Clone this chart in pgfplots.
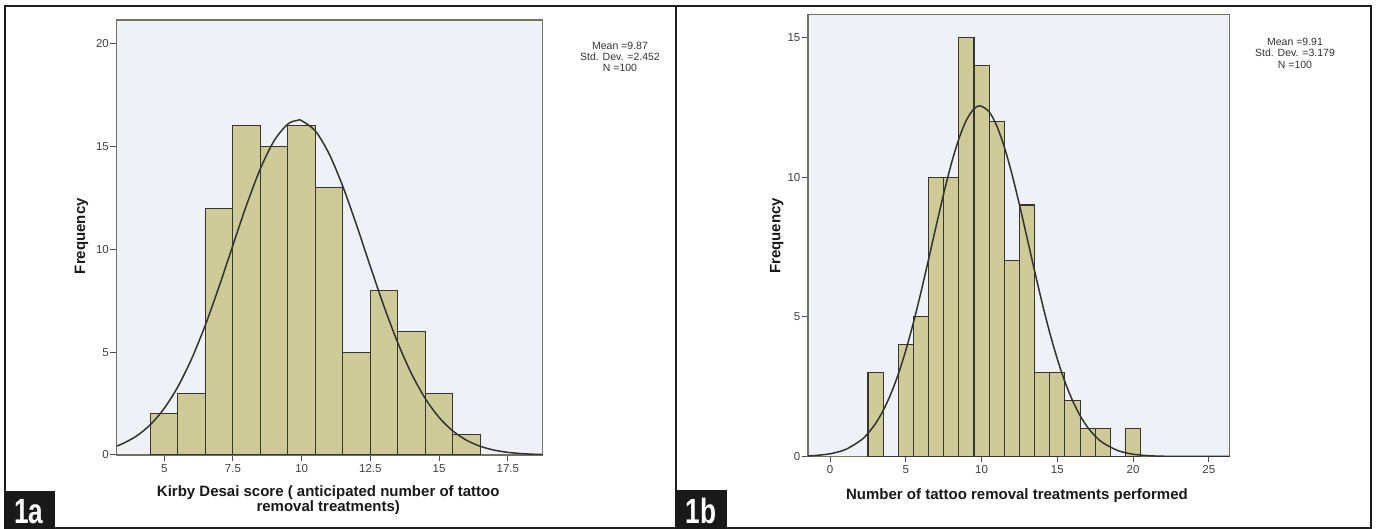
\documentclass[border=0pt]{standalone}
\usepackage{pgfplots}
\pgfplotsset{compat=1.18}
\usepackage{graphicx}
\usepackage{fontspec}
\setmainfont{Liberation Sans}
\definecolor{plotbg}{RGB}{238,241,246}
\definecolor{barfill}{RGB}{206,203,152}
\definecolor{baredge}{RGB}{55,54,46}
\definecolor{framegray}{RGB}{115,112,100}
\definecolor{curvecol}{RGB}{50,50,50}
\pgfplotsset{
  spssaxis/.style={
    scale only axis,
    anchor=south west,
    axis background/.style={fill=plotbg},
    axis line style={draw=framegray, line width=1.3pt},
    tick align=outside,
    xtick pos=bottom, ytick pos=left,
    major tick length=6pt,
    tick style={draw=black!70, line width=1pt},
    minor tick num=0,
    /pgf/number format/assume math mode=true,
    tick label style={font=\fontsize{11.5}{11.5}\selectfont, text=black!75},
    yticklabel style={inner sep=1.5pt},
    xticklabel style={inner sep=3pt},
    label style={font=\bfseries\fontsize{15}{15}\selectfont, text=black!90},
  }
}
\begin{document}
\begin{tikzpicture}
\useasboundingbox (0pt,0pt) rectangle (1377pt,529pt);
\fill[white] (0pt,0pt) rectangle (1377pt,529pt);

% ---------- panel 1a ----------
\begin{axis}[spssaxis,
  at={(116.5pt,74pt)}, width=426pt, height=435pt,
  xmin=3.265, xmax=18.76, ymin=0, ymax=21.14,
  xtick={5,7.5,10,12.5,15,17.5},
  xticklabels={5,7.5,10,12.5,15,17.5},
  ytick={0,5,10,15,20},
  xlabel={Kirby Desai score ( anticipated number of tattoo\\removal treatments)},
  xlabel style={at={(axis description cs:0.497,-0.1046)}, anchor=center, align=center},
  ylabel={Frequency},
  ylabel style={at={(axis description cs:-0.082,0.503)}, anchor=center, rotate=0},
]
\addplot[ybar interval, fill=barfill, draw=baredge, line width=1.1pt] coordinates {
(4.5,2) (5.5,3) (6.5,12) (7.5,16) (8.5,15) (9.5,16) (10.5,13) (11.5,5)
(12.5,8) (13.5,6) (14.5,3) (15.5,1) (16.5,1)};
\addplot[smooth, color=curvecol, line width=1.5pt] coordinates {
(3.265,0.435) (3.5,0.557) (4,0.927) (4.5,1.478) (5,2.263) (5.5,3.324) (6,4.682)
(6.5,6.327) (7,8.202) (7.5,10.199) (8,12.164) (8.5,13.919) (9,15.278) (9.5,16.086)
(9.87,16.27) (10,16.247) (10.5,15.742) (11,14.631) (11.5,13.045) (12,11.157)
(12.5,9.153) (13,7.204) (13.5,5.439) (14,3.938) (14.5,2.736) (15,1.823) (15.5,1.166)
(16,0.715) (16.5,0.421) (17,0.237) (17.5,0.128) (18,0.0667) (18.5,0.0332) (18.76,0.022)};
\end{axis}

% ---------- panel 1b ----------
\begin{axis}[spssaxis,
  at={(808pt,72.5pt)}, width=421.6pt, height=442pt,
  xmin=-1.46, xmax=26.37, ymin=0, ymax=15.82,
  xtick={0,5,10,15,20,25},
  ytick={0,5,10,15},
  xlabel={Number of tattoo removal treatments performed},
  xlabel style={at={(axis description cs:0.4957,-0.0887)}, anchor=center},
  ylabel={Frequency},
  ylabel style={at={(axis description cs:-0.074,0.499)}, anchor=center, rotate=0},
]
\addplot[ybar interval, fill=barfill, draw=baredge, line width=1.1pt] coordinates {
(2.5,3) (3.5,0) (4.5,4) (5.5,5) (6.5,10) (7.5,10) (8.5,15) (9.5,14) (10.5,12)
(11.5,7) (12.5,9) (13.5,3) (14.5,3) (15.5,2) (16.5,1) (17.5,1) (18.5,0) (19.5,1) (20.5,1)};
\addplot[smooth, color=curvecol, line width=1.5pt] coordinates {
(-1.46,0.021) (-1,0.0347) (0,0.0974) (1,0.247) (2,0.568) (2.5,0.829) (3,1.182) (3.5,1.643)
(4,2.229) (4.5,2.949) (5,3.807) (5.5,4.795) (6,5.890) (6.5,7.059) (7,8.254) (7.5,9.415)
(8,10.477) (8.5,11.373) (9,12.045) (9.5,12.445) (9.91,12.549) (10.5,12.335) (11,11.833)
(11.5,11.073) (12,10.110) (12.5,9.005) (13,7.825) (13.5,6.633) (14,5.485) (14.5,4.425)
(15,3.483) (15.5,2.674) (16,2.003) (16.5,1.464) (17,1.043) (17.5,0.726) (18,0.492)
(19,0.210) (20,0.0815) (21,0.0286) (22,0.0091) (23,0.0026) (24,0.0007) (26.37,0)};
\end{axis}

% stats text
\node[align=center, font=\fontsize{10.5}{11.3}\selectfont, text=black!80] at (620pt,472pt)
  {Mean =9.87\\Std. Dev. =2.452\\N =100};
\node[align=center, font=\fontsize{10.5}{11.3}\selectfont, text=black!80] at (1295pt,475.7pt)
  {Mean =9.91\\Std. Dev. =3.179\\N =100};

% frames
\draw[line width=2.2pt, color=black!88] (5pt,1.3pt) rectangle (1371pt,523pt);
\draw[line width=2.2pt, color=black!88] (676pt,1.3pt) -- (676pt,523pt);

% panel tags
\fill[black!90] (4pt,0.3pt) rectangle (55pt,37.5pt);
\fill[black!90] (675pt,0.3pt) rectangle (727pt,39pt);
\node[text=white, font=\bfseries\fontsize{35}{35}\selectfont, inner sep=0pt, anchor=base] at (29pt,5pt) {\scalebox{0.75}[1]{1a}};
\node[text=white, font=\bfseries\fontsize{35}{35}\selectfont, inner sep=0pt, anchor=base] at (701pt,5pt) {\scalebox{0.75}[1]{1b}};
\end{tikzpicture}
\end{document}
